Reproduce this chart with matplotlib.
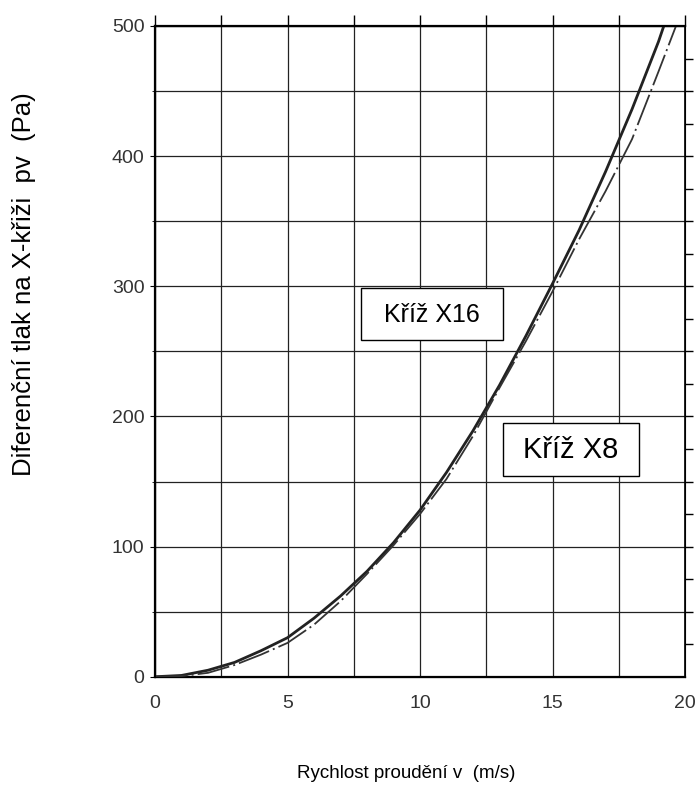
import numpy as np
import matplotlib.pyplot as plt
from matplotlib.patches import Rectangle

plt.rcParams['font.family'] = ['Liberation Sans', 'DejaVu Sans']

# flow velocity (m/s) and differential pressure (Pa)
v_x16 = [0, 1, 2, 3, 4, 5, 6, 7, 8, 9, 10, 11, 12, 13, 14, 15, 16, 17, 18, 19, 19.2]
p_x16 = [0, 1, 5, 11, 20, 30, 45, 62, 81, 103, 128, 157, 189, 224, 262, 302, 343, 388, 436, 488, 500]

v_x8 = [0, 1, 2, 3, 4, 5, 6, 7, 8, 9, 10, 11, 12, 13, 14, 15, 16, 17, 18, 19, 19.66]
p_x8 = [0, 0.5, 3, 9, 17, 26, 40, 58, 79, 101, 125, 152, 185, 222, 258, 296, 336, 373, 413, 465, 500]

x_ticks = [0, 5, 10, 15, 20]
y_ticks = [0, 100, 200, 300, 400, 500]

fig = plt.figure(figsize=(6.97, 7.87), dpi=100)
ax = fig.add_axes([0.2224, 0.1401, 0.7604, 0.8269])

ax.set_xlim(0, 20)
ax.set_ylim(0, 500)
ax.set_xticks(x_ticks)
ax.set_xticks(np.arange(0, 20.1, 2.5), minor=True)
ax.set_yticks(y_ticks)
ax.set_yticks(np.arange(0, 501, 50), minor=True)
ax.grid(True, which='both', color='#222222', linewidth=0.9)
ax.set_axisbelow(True)

ax.tick_params(axis='x', which='both', bottom=False, top=True, direction='out',
               length=8, width=1, labelsize=14, labelcolor='#333333', pad=5)
ax.tick_params(axis='y', which='both', left=False, right=False,
               labelsize=14, labelcolor='#333333', pad=4)

for side in ['left', 'bottom', 'top']:
    ax.spines[side].set_linewidth(1.6)
ax.spines['right'].set_linewidth(1.2)

# right-hand scale ticks every 25 Pa
ax2 = ax.twinx()
ax2.set_ylim(0, 500)
ax2.set_yticks(np.arange(25, 500, 25))
ax2.tick_params(axis='y', direction='out', length=6, width=1, labelright=False)

ax.plot(v_x16, p_x16, color='#222222', linewidth=2.0, solid_capstyle='butt', zorder=3)
ax.plot(v_x8, p_x8, color='#333333', linewidth=1.3, dashes=(18, 2.3, 1.1, 2.3), zorder=3)

# label boxes
ax.add_patch(Rectangle((7.77, 259), 13.13 - 7.77, 298.6 - 259,
                       facecolor='white', edgecolor='black', linewidth=1, zorder=4))
ax.text(10.44, 278, 'Kříž X16', fontsize=18, ha='center', va='center', zorder=5)
ax.add_patch(Rectangle((13.14, 154.4), 18.28 - 13.14, 195 - 154.4,
                       facecolor='white', edgecolor='black', linewidth=1, zorder=4))
ax.text(15.69, 174, 'Kříž X8', fontsize=21, ha='center', va='center', zorder=5)

fig.text(24 / 697, 1 - 284 / 787, 'Diferenční tlak na X-křiži  pv  (Pa)',
         rotation=90, ha='center', va='center', fontsize=18.5)
fig.text(406 / 697, 1 - 773 / 787, 'Rychlost proudění v  (m/s)',
         ha='center', va='center', fontsize=13.5)

fig.savefig('out.png', dpi=100)
